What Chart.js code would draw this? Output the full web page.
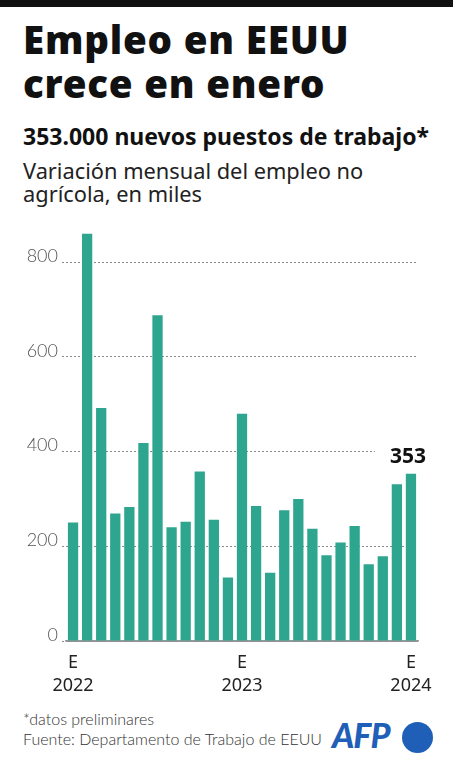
<!DOCTYPE html>
<html>
<head>
<meta charset="utf-8">
<script src="https://cdn.jsdelivr.net/npm/chart.js@4.4.1/dist/chart.umd.min.js"></script>
<style>
  body { margin: 0; background: #fff; }
  #page { position: relative; width: 453px; height: 768px; overflow: hidden; font-family: "Noto Sans", sans-serif; color: #111; }
  .txt { position: absolute; left: 23px; white-space: nowrap; line-height: 1; }
  #bar { position: absolute; left: 0; top: 0; width: 453px; height: 7px; background: #111; }
  .title { font-size: 38.5px; font-weight: 900; letter-spacing: 0.8px; }
  .sub { font-size: 23px; font-weight: 700; letter-spacing: 0px; }
  .desc { font-size: 21.8px; font-weight: 400; color: #222; letter-spacing: 0px; }
  .foot { font-family: Lato, sans-serif; font-size: 16px; font-weight: 300; color: #333; }
  #chartBox { position: absolute; left: 0; top: 200px; width: 453px; height: 500px; }
  #logo { position: absolute; left: 332px; top: 718px; line-height: 1; }
  #logo span { font-family: Lato, sans-serif; font-size: 34px; font-weight: 900; font-style: italic; color: #1f5fb8; letter-spacing: -1px; }
  #dot { position: absolute; left: 402px; top: 722px; width: 31px; height: 31px; border-radius: 50%; background: #1f5fb8; }
</style>
</head>
<body>
<div id="page">
  <div id="bar"></div>
  <div class="txt title" style="top:20px">Empleo en EEUU</div>
  <div class="txt title" style="top:64px">crece en enero</div>
  <div class="txt sub" style="top:125px">353.000 nuevos puestos de trabajo*</div>
  <div class="txt desc" style="top:160px">Variación mensual del empleo no</div>
  <div class="txt desc" style="top:183px">agrícola, en miles</div>
  <div id="chartBox"><canvas id="myChart" width="453" height="500"></canvas></div>
  <div class="txt foot" style="top:711px">*datos preliminares</div>
  <div class="txt foot" style="top:731px">Fuente: Departamento de Trabajo de EEUU</div>
  <div id="logo"><span>AFP</span></div>
  <div id="dot"></div>
</div>
<script>
const months = [
  'ene 2022', 'feb 2022', 'mar 2022', 'abr 2022', 'may 2022', 'jun 2022',
  'jul 2022', 'ago 2022', 'sep 2022', 'oct 2022', 'nov 2022', 'dic 2022',
  'ene 2023', 'feb 2023', 'mar 2023', 'abr 2023', 'may 2023', 'jun 2023',
  'jul 2023', 'ago 2023', 'sep 2023', 'oct 2023', 'nov 2023', 'dic 2023',
  'ene 2024'
];
const jobs = [
  250, 860, 492, 269, 283, 418, 688, 240, 252, 358, 256, 134,
  480, 285, 144, 276, 300, 237, 181, 208, 243, 162, 179, 331,
  353
];
const yTicks = [0, 200, 400, 600, 800];

const ctx = document.getElementById('myChart');

// etiqueta del ultimo dato
const lastLabel = {
  id: 'lastLabel',
  afterDatasetsDraw(chart) {
    const meta = chart.getDatasetMeta(0);
    const i = jobs.length - 1;
    const bar = meta.data[i];
    const c = chart.ctx;
    c.save();
    c.font = 'bold 21px "Noto Sans", sans-serif';
    const text = String(jobs[i]);
    const w = c.measureText(text).width;
    const cx = bar.x - 3;
    const cy = bar.y - 17;
    c.fillStyle = '#fff';
    c.fillRect(cx - w / 2 - 15, cy - 9, w + 17, 18);
    c.fillStyle = '#111';
    c.textAlign = 'center';
    c.textBaseline = 'middle';
    c.fillText(text, cx, cy);
    c.restore();
  }
};

new Chart(ctx, {
  type: 'bar',
  data: {
    labels: months,
    datasets: [{
      data: jobs,
      backgroundColor: '#2ea58f',
      borderWidth: 0,
      categoryPercentage: 1,
      barPercentage: 0.73
    }]
  },
  options: {
    responsive: false,
    animation: false,
    layout: {
      padding: { top: 9, right: 35, left: 0, bottom: 0 }
    },
    scales: {
      x: {
        grid: { display: false },
        border: { display: true, color: '#999', width: 1.5 },
        afterFit(scale) { scale.height = 59; },
        ticks: {
          autoSkip: false,
          maxRotation: 0,
          padding: 2,
          color: '#222',
          font: { family: 'Noto Sans', size: 18, lineHeight: 1.3 },
          callback: function (value, index) {
            const parts = months[index].split(' ');
            return parts[0] === 'ene' ? ['E', parts[1]] : '';
          }
        }
      },
      y: {
        min: 0,
        max: 900,
        afterFit(scale) { scale.width = 66; },
        afterBuildTicks(scale) { scale.ticks = yTicks.map(v => ({ value: v })); },
        border: {
          display: false,
          dash: c => (c.tick && c.tick.value === 0 ? [] : [2, 2])
        },
        grid: {
          color: '#8a8a8a',
          lineWidth: 1,
          tickLength: 4,
          tickBorderDash: [2, 2]
        },
        ticks: {
          padding: 4,
          labelOffset: -6,
          color: '#555',
          font: { family: 'Lato', size: 18, weight: '300' }
        }
      }
    },
    plugins: {
      legend: { display: false },
      tooltip: { enabled: false }
    }
  },
  plugins: [lastLabel]
});
</script>
</body>
</html>
